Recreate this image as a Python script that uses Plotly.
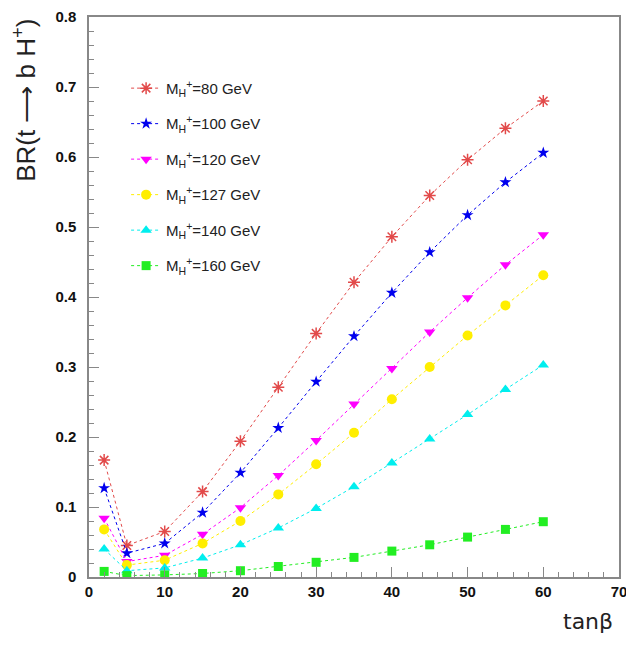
import plotly.graph_objects as go

tanb = [2, 5, 10, 15, 20, 25, 30, 35, 40, 45, 50, 55, 60]

masses = ["80", "100", "120", "127", "140", "160"]

br_80 = [0.167, 0.045, 0.065, 0.122, 0.194, 0.271, 0.348, 0.421, 0.486, 0.545, 0.596, 0.641, 0.680]
br_100 = [0.127, 0.034, 0.048, 0.092, 0.149, 0.213, 0.279, 0.344, 0.406, 0.464, 0.517, 0.564, 0.606]
br_120 = [0.084, 0.022, 0.031, 0.061, 0.099, 0.145, 0.195, 0.247, 0.298, 0.350, 0.399, 0.446, 0.489]
br_127 = [0.068, 0.017, 0.024, 0.048, 0.080, 0.118, 0.161, 0.206, 0.254, 0.300, 0.345, 0.388, 0.431]
br_140 = [0.040, 0.009, 0.013, 0.027, 0.046, 0.070, 0.098, 0.129, 0.163, 0.197, 0.232, 0.268, 0.303]
br_160 = [0.008, 0.002, 0.003, 0.005, 0.009, 0.015, 0.021, 0.028, 0.037, 0.046, 0.057, 0.068, 0.079]

series = [br_80, br_100, br_120, br_127, br_140, br_160]
colors = ["#e24a4a", "#0000ee", "#ff00ff", "#ffee00", "#00eeee", "#22ee22"]
symbols = ["asterisk-open", "star", "triangle-down", "circle", "triangle-up", "square"]
sizes = [10, 9, 10, 10, 10, 9]

x_ticks = [0, 10, 20, 30, 40, 50, 60, 70]
y_ticks = [0, 0.1, 0.2, 0.3, 0.4, 0.5, 0.6, 0.7, 0.8]

fig = go.Figure()
for m, ys, c, s, sz in zip(masses, series, colors, symbols, sizes):
    fig.add_trace(go.Scatter(
        x=tanb, y=ys, mode="lines+markers",
        name=f"M<sub>H</sub><sup>+</sup>={m} GeV",
        legendgroup=m,
        line=dict(color=c, width=1, dash="dot"),
        marker=dict(symbol=s, color=c, size=sz,
                    line=dict(color=c, width=1.5 if s == "asterisk-open" else 0)),
    ))

tfont = dict(family="Liberation Sans, Arial, sans-serif", size=15, color="#111", weight="bold")

# page body has an 8px default margin, so the figure is 8px smaller
fig.update_layout(
    width=626, height=638,
    margin=dict(l=81, r=15, t=9, b=69),
    paper_bgcolor="white", plot_bgcolor="white",
    showlegend=True,
    legend=dict(x=0.07, y=0.902, xanchor="left", yanchor="top",
                bgcolor="rgba(0,0,0,0)", tracegroupgap=13,
                traceorder="grouped",
                font=dict(family="Liberation Sans, Arial, sans-serif", size=15, color="#222")),
    xaxis=dict(range=[0, 70], tickvals=x_ticks, ticks="inside", ticklen=10,
               tickcolor="#888", showline=True, linecolor="#888", linewidth=1.5,
               mirror=True, showgrid=False, zeroline=False, automargin=False,
               tickfont=tfont,
               minor=dict(dtick=2, ticks="inside", ticklen=5, tickcolor="#888", showgrid=False)),
    yaxis=dict(range=[0, 0.8], tickvals=y_ticks, ticks="inside", ticklen=10,
               tickcolor="#888", showline=True, linecolor="#888", linewidth=1.5,
               mirror=True, showgrid=False, zeroline=False, automargin=False,
               ticklabelstandoff=8,
               tickfont=tfont,
               minor=dict(dtick=0.02, ticks="inside", ticklen=5, tickcolor="#888", showgrid=False)),
    annotations=[
        dict(text="BR(t \u27f6 b H<sup>+</sup>)", xref="paper", yref="paper",
             x=-0.122, y=1.0, xanchor="center", yanchor="top", textangle=-90,
             showarrow=False,
             font=dict(family="Liberation Sans, Arial, sans-serif", size=26, color="#222")),
        dict(text="tan\u03b2", xref="paper", yref="paper",
             x=0.993, y=-0.08, xanchor="right", yanchor="middle",
             showarrow=False,
             font=dict(family="DejaVu Sans, sans-serif", size=22, color="#222")),
    ],
)

fig.write_html("out.html")
